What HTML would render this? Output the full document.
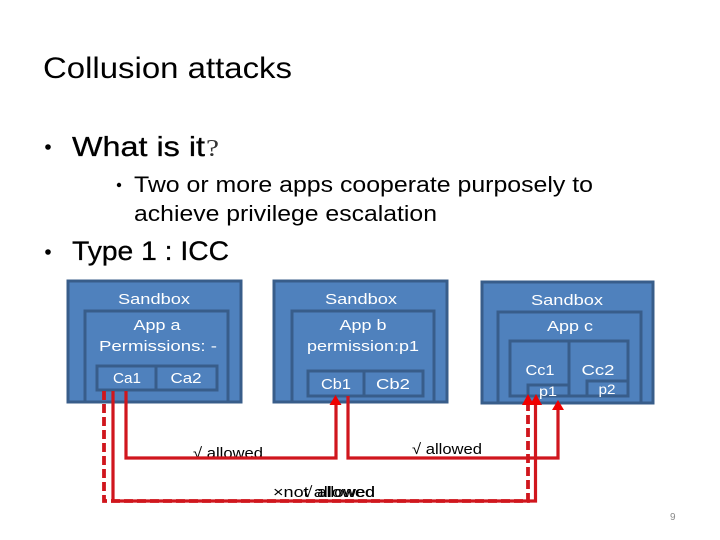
<!DOCTYPE html>
<html>
<head>
<meta charset="utf-8">
<style>
html,body{margin:0;padding:0;background:#fff;width:720px;height:540px;overflow:hidden}
svg{display:block}
text{font-family:"Liberation Sans","DejaVu Sans",sans-serif}
.w{fill:#fff;font-size:15px;text-anchor:middle}
.box{fill:#4f81bd;stroke:#385d8a;stroke-width:3}
.div{stroke:#385d8a;stroke-width:3}
.r{fill:none;stroke:#d0161d;stroke-width:3.2}
.a{fill:#f00000}
.k{fill:#000;font-size:15px}
</style>
</head>
<body>
<svg width="720" height="540" viewBox="0 0 720 540">
<rect width="720" height="540" fill="#fff"/>
<text x="43" y="78" font-size="30" textLength="249" lengthAdjust="spacingAndGlyphs">Collusion attacks</text>
<circle cx="48" cy="147" r="2.800" fill="#000"/>
<text x="72" y="156" font-size="28" textLength="133" lengthAdjust="spacingAndGlyphs" stroke="#000" stroke-width="0.300">What is it</text>
<text x="206" y="156" font-size="24" textLength="13" lengthAdjust="spacingAndGlyphs" fill="#333" style="font-family:'Liberation Serif',serif">?</text>
<circle cx="119" cy="185" r="2.200" fill="#000"/>
<text x="134" y="192" font-size="22" textLength="459" lengthAdjust="spacingAndGlyphs">Two or more apps cooperate purposely to</text>
<text x="134" y="221" font-size="22" textLength="303" lengthAdjust="spacingAndGlyphs">achieve privilege escalation</text>
<circle cx="48" cy="252" r="2.800" fill="#000"/>
<text x="72" y="260" font-size="27" textLength="157" lengthAdjust="spacingAndGlyphs" stroke="#000" stroke-width="0.300">Type 1 : ICC</text>

<!-- Sandbox a -->
<rect class="box" x="68" y="281" width="173" height="121"/>
<rect class="box" x="85" y="311" width="143" height="91"/>
<rect class="box" x="97" y="366" width="120" height="24"/>
<line class="div" x1="156" y1="366" x2="156" y2="390"/>
<text class="w" x="154" y="304" textLength="72" lengthAdjust="spacingAndGlyphs">Sandbox</text>
<text class="w" x="157" y="330" textLength="47" lengthAdjust="spacingAndGlyphs">App a</text>
<text class="w" x="158" y="351" textLength="118" lengthAdjust="spacingAndGlyphs">Permissions: -</text>
<text class="w" x="127" y="383" textLength="28" lengthAdjust="spacingAndGlyphs">Ca1</text>
<text class="w" x="186" y="383" textLength="31" lengthAdjust="spacingAndGlyphs">Ca2</text>

<!-- Sandbox b -->
<rect class="box" x="274" y="281" width="173" height="121"/>
<rect class="box" x="292" y="311" width="142" height="91"/>
<rect class="box" x="308" y="371" width="115" height="25"/>
<line class="div" x1="364" y1="371" x2="364" y2="396"/>
<text class="w" x="361" y="304" textLength="72" lengthAdjust="spacingAndGlyphs">Sandbox</text>
<text class="w" x="363" y="330" textLength="47" lengthAdjust="spacingAndGlyphs">App b</text>
<text class="w" x="363" y="351" textLength="112" lengthAdjust="spacingAndGlyphs">permission:p1</text>
<text class="w" x="336" y="389" textLength="30" lengthAdjust="spacingAndGlyphs">Cb1</text>
<text class="w" x="393" y="389" textLength="34" lengthAdjust="spacingAndGlyphs">Cb2</text>

<!-- Sandbox c -->
<rect class="box" x="482" y="282" width="171" height="121"/>
<rect class="box" x="498" y="312" width="143" height="91"/>
<rect class="box" x="510" y="341" width="118" height="55"/>
<line class="div" x1="569" y1="341" x2="569" y2="396"/>
<rect class="box" x="528" y="385" width="41" height="11"/>
<rect class="box" x="587" y="381" width="41" height="15"/>
<text class="w" x="540" y="375" textLength="29" lengthAdjust="spacingAndGlyphs">Cc1</text>
<text class="w" x="598" y="375" textLength="33" lengthAdjust="spacingAndGlyphs">Cc2</text>
<text class="w" x="567" y="305" textLength="72" lengthAdjust="spacingAndGlyphs">Sandbox</text>
<text class="w" x="570" y="331" textLength="46" lengthAdjust="spacingAndGlyphs">App c</text>
<text class="w" x="548" y="396" style="font-size:14px" textLength="18" lengthAdjust="spacingAndGlyphs">p1</text>
<text class="w" x="607" y="394" style="font-size:14px" textLength="17" lengthAdjust="spacingAndGlyphs">p2</text>

<!-- Labels -->
<text class="k" x="193" y="458" textLength="70" lengthAdjust="spacingAndGlyphs">√ allowed</text>
<text class="k" x="412" y="454" textLength="70" lengthAdjust="spacingAndGlyphs">√ allowed</text>
<text class="k" x="273" y="497" textLength="102" lengthAdjust="spacingAndGlyphs">×not allowed</text>
<text class="k" x="303" y="497" textLength="72" lengthAdjust="spacingAndGlyphs">√ allowed</text>

<!-- Connectors -->
<path class="r" d="M113 391V501H535.500V402"/>
<path class="r" d="M104 391V501H528V402" stroke-dasharray="9 4" style="stroke-width:3.800"/>
<path class="r" d="M126 391V458H336V403"/>
<path class="r" d="M348 396V458H558V408"/>
<polygon class="a" points="335.500,395 329.500,405 341.500,405"/>
<polygon class="a" points="528,394 522,405 534,405"/>
<polygon class="a" points="536,394 530,405 542,405"/>
<polygon class="a" points="558,400 552,410 564,410"/>

<text x="670" y="520" font-size="10" fill="#8a8a8a">9</text>
</svg>
</body>
</html>
